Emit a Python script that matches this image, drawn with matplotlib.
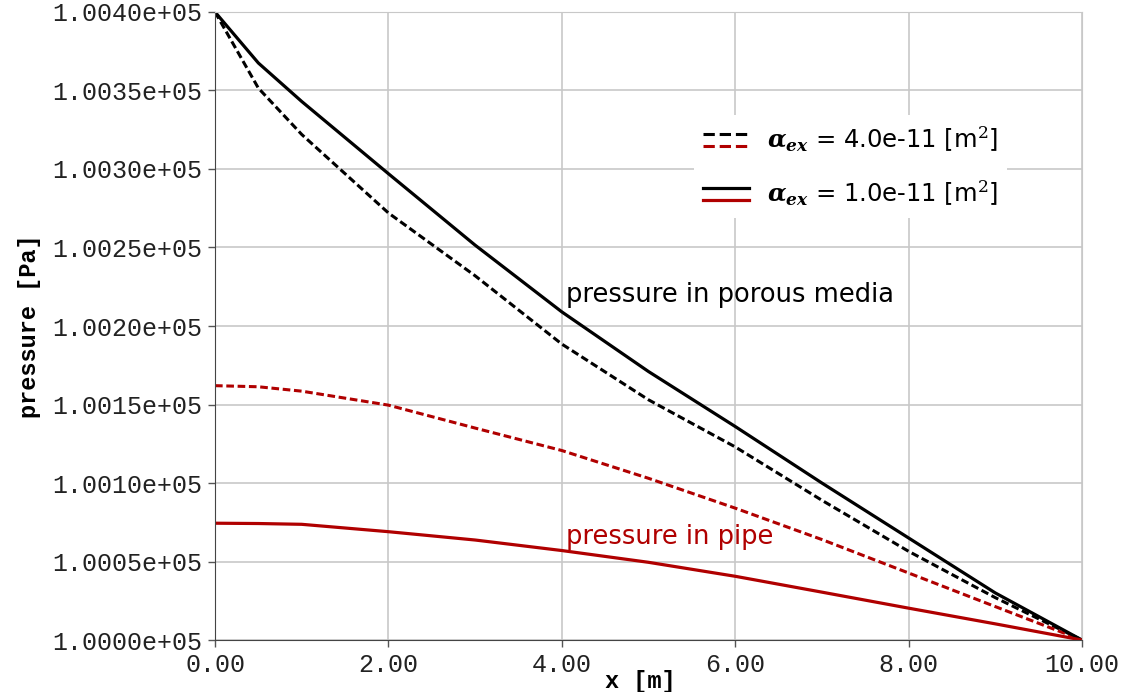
import numpy as np
import matplotlib
matplotlib.use("Agg")
import matplotlib.pyplot as plt
from matplotlib.lines import Line2D
from matplotlib.legend_handler import HandlerBase

# datos (x en m, presion en Pa)
x = [0.0, 0.5, 1.0, 2.0, 3.0, 4.0, 5.0, 6.0, 7.0, 8.0, 9.0, 10.0]
p_base = 100000.0

# alpha_ex = 1.0e-11 m2  (sobrepresion en Pa respecto de p_base)
poroso_1e11 = [400.0, 367.5, 343.0, 297.0, 251.5, 209.0, 171.0, 136.0, 100.0, 65.0, 30.0, 0.0]
tubo_1e11 = [74.4, 74.2, 73.7, 69.0, 63.7, 57.0, 49.5, 40.6, 30.5, 20.3, 10.3, 0.0]

# alpha_ex = 4.0e-11 m2
poroso_4e11 = [400.0, 351.5, 322.0, 272.0, 232.0, 188.5, 153.0, 123.0, 89.0, 56.5, 27.0, 0.0]
tubo_4e11 = [162.0, 161.3, 158.5, 149.6, 135.0, 120.7, 103.0, 84.0, 64.0, 42.7, 21.3, 0.0]

xticks = [0, 2, 4, 6, 8, 10]
yticks = [100000, 100050, 100100, 100150, 100200, 100250, 100300, 100350, 100400]
etiquetas = [r'$\mathbfit{\alpha}_{\mathbfit{ex}}$ = 4.0e-11 [m$^2$]',
             r'$\mathbfit{\alpha}_{\mathbfit{ex}}$ = 1.0e-11 [m$^2$]']

negro = 'black'
rojo = '#b00000'
guiones = (2.5, 1.2)

plt.rcParams['mathtext.fontset'] = 'dejavuserif'


class ParVertical(HandlerBase):
    # dibuja dos lineas una encima de la otra en la leyenda
    def create_artists(self, legend, orig_handle, xdescent, ydescent,
                       width, height, fontsize, trans):
        arriba, abajo = orig_handle
        out = []
        for h, yy in ((arriba, 0.85 * height), (abajo, 0.15 * height)):
            l = Line2D([-xdescent, -xdescent + width], [yy - ydescent] * 2,
                       color=h.get_color(), linewidth=h.get_linewidth(),
                       linestyle=h.get_linestyle())
            l.set_transform(trans)
            out.append(l)
        return out


fig = plt.figure(figsize=(11.21, 6.92), dpi=100)
ax = fig.add_axes([0.1918, 0.0751, 0.7734, 0.9076])

xs = np.array(x)
l1, = ax.plot(xs, p_base + np.array(poroso_4e11), color=negro, lw=2.2, linestyle=(0, guiones))
l2, = ax.plot(xs, p_base + np.array(tubo_4e11), color=rojo, lw=2.2, linestyle=(0, guiones))
l3, = ax.plot(xs, p_base + np.array(poroso_1e11), color=negro, lw=2.3)
l4, = ax.plot(xs, p_base + np.array(tubo_1e11), color=rojo, lw=2.3)

ax.set_xlim(0, 10)
ax.set_ylim(100000, 100400)
ax.set_xticks(xticks)
ax.set_yticks(yticks)
ax.set_xticklabels(['%.2f' % v for v in xticks])
ax.set_yticklabels(['%.4e' % v for v in yticks])
for lab in ax.get_xticklabels() + ax.get_yticklabels():
    lab.set_family('Liberation Mono')
    lab.set_fontsize(18)
    lab.set_color('#222222')
ax.tick_params(length=5, width=1, color='#555555', pad=4)

ax.grid(True, color='#c8c8c8', linewidth=1.2)
ax.set_axisbelow(True)
ax.spines['left'].set_color('#444444')
ax.spines['bottom'].set_color('#444444')
ax.spines['top'].set_color('#c8c8c8')
ax.spines['right'].set_color('#c8c8c8')

ax.set_xlabel('x [m]', family='Liberation Mono', fontweight='bold', fontsize=17)
ax.xaxis.set_label_coords(0.49, -0.048)
ax.set_ylabel('pressure [Pa]', family='Liberation Mono', fontweight='bold', fontsize=17, labelpad=8)

ax.text(4.05, p_base + 219.7, 'pressure in porous media', color=negro, fontsize=18.5,
        va='center', ha='left', family='DejaVu Sans')
ax.text(4.05, p_base + 65.6, 'pressure in pipe', color=rojo, fontsize=18.5,
        va='center', ha='left', family='DejaVu Sans')

leg = ax.legend([(l1, l2), (l3, l4)], etiquetas, handler_map={tuple: ParVertical()},
                loc='upper left', bbox_to_anchor=(0.538, 0.855), frameon=True,
                fontsize=17.5, handlelength=1.9, labelspacing=1.0, handletextpad=0.7)
leg.get_frame().set_edgecolor('none')
leg.get_frame().set_facecolor('white')
leg.get_frame().set_alpha(1)

fig.savefig('out.png', dpi=100)
